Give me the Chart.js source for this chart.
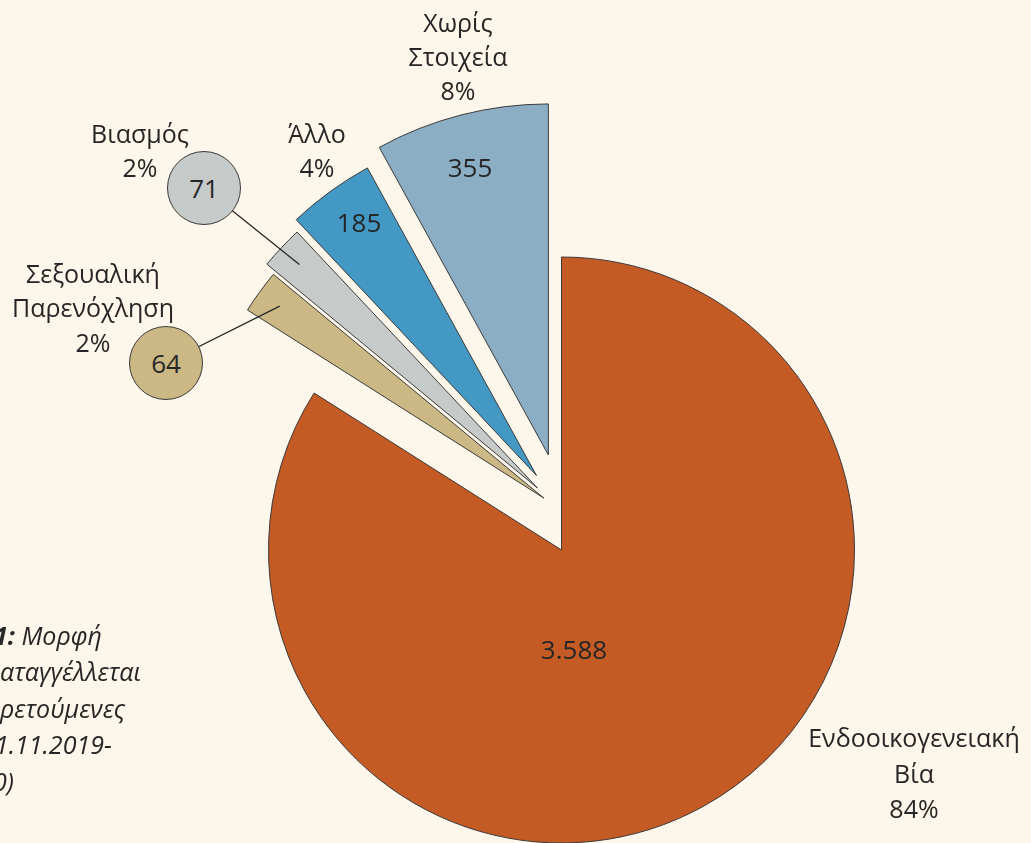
<!DOCTYPE html>
<html lang="el">
<head>
<meta charset="utf-8">
<title>Μορφή βίας που καταγγέλλεται</title>
<script src="https://cdn.jsdelivr.net/npm/chart.js@4.4.1/dist/chart.umd.min.js"></script>
<style>
  html, body { margin: 0; padding: 0; }
  body {
    width: 1031px; height: 843px; overflow: hidden; position: relative;
    background: #fdf6ea; color: #262626;
    font-family: 'Open Sans', 'Noto Sans', sans-serif;
  }
  canvas { position: absolute; left: 0; top: 0; }
  .lbl { position: absolute; transform: translateX(-50%); text-align: center; white-space: nowrap; font-size: 25px; line-height: 34.5px; }
  .val { position: absolute; transform: translate(-50%, -50%); font-size: 26px; white-space: nowrap; }
  .bubble {
    position: absolute; width: 72px; height: 72px; margin: -37px 0 0 -37px;
    border: 1px solid #3a3a3a; border-radius: 50%;
    display: flex; align-items: center; justify-content: center; font-size: 26px;
  }
  .cap { position: absolute; font-style: italic; font-size: 25px; white-space: nowrap; line-height: 30px; }
</style>
</head>
<body>
<canvas id="mainPie" width="1031" height="843"></canvas>
<canvas id="smallPie" width="1031" height="843"></canvas>
<div id="overlay"></div>
<script>
//////////////////////
// data
//////////////////////

// order = clockwise from 12 o'clock
const categories = ['Ενδοοικογενειακή Βία', 'Σεξουαλική Παρενόχληση', 'Βιασμός', 'Άλλο', 'Χωρίς Στοιχεία'];
const shares = [84, 2, 2, 4, 8];           // % drawn as slices
const counts = [3588, 64, 71, 185, 355];    // number of reports (labels)
const labelLines = [['Ενδοοικογενειακή', 'Βία'], ['Σεξουαλική', 'Παρενόχληση'], ['Βιασμός'], ['Άλλο'], ['Χωρίς', 'Στοιχεία']];

//////////////////////
// styles / layout
//////////////////////

const sliceColors = ['#c45a24', '#cbb884', '#c6cbca', '#4398c4', '#8caec4'];
const edgeColor = '#3a3a3a';
const explode = [0, 23.7, 35.2, 45.1, 58.9];   // px pulled out along the bisector

// name labels: centre x, centre y of first line, line height
const namePos = [[914, 738, 35.5], [93, 273, 34.5], [140, 133, 34], [317, 133, 34.5], [458, 22, 34]];
// count labels: either inside the slice or in a bubble
const countPos = [[574, 649], [166, 363], [204, 188], [359, 222], [470, 167]];
const bubbles = [1, 2];

function fmt(n) {
  return String(n).replace(/\B(?=(\d{3})+(?!\d))/g, '.');
}

// Excel like point explosion + leader lines to bubbles
const explodePlugin = {
  id: 'explode',
  beforeDatasetsDraw(chart, args, opts) {
    const area = chart.chartArea;
    const cx = (area.left + area.right) / 2;
    const cy = (area.top + area.bottom) / 2;
    chart.getDatasetMeta(0).data.forEach((arc, i) => {
      const d = opts.distances[i] || 0;
      const mid = (arc.startAngle + arc.endAngle) / 2;
      arc.x = cx + Math.cos(mid) * d;
      arc.y = cy + Math.sin(mid) * d;
    });
  },
  afterDatasetsDraw(chart, args, opts) {
    const ctx = chart.ctx;
    const arcs = chart.getDatasetMeta(0).data;
    ctx.save();
    ctx.strokeStyle = '#262626';
    ctx.lineWidth = 1.3;
    opts.leaders.forEach((i) => {
      const arc = arcs[i];
      const mid = (arc.startAngle + arc.endAngle) / 2;
      const r = arc.outerRadius * 0.93;
      ctx.beginPath();
      ctx.moveTo(countPos[i][0], countPos[i][1]);
      ctx.lineTo(arc.x + Math.cos(mid) * r, arc.y + Math.sin(mid) * r);
      ctx.stroke();
    });
    ctx.restore();
  }
};

function pieConfig(show, radius, padding, plugins, pluginOpts) {
  return {
    type: 'pie',
    data: {
      labels: categories,
      datasets: [{
        data: shares,
        backgroundColor: sliceColors.map((c, i) => show(i) ? c : 'rgba(0,0,0,0)'),
        borderColor: edgeColor,
        borderWidth: sliceColors.map((c, i) => show(i) ? 1 : 0),
        clip: false
      }]
    },
    options: {
      responsive: false,
      animation: false,
      events: [],
      radius: radius,
      layout: { padding: padding },
      plugins: Object.assign({ legend: { display: false }, tooltip: { enabled: false } }, pluginOpts)
    },
    plugins: plugins
  };
}

// big slice
new Chart(document.getElementById('mainPie'),
  pieConfig((i) => i === 0, 293, { left: 92, top: 257 }, [], {}));

// the four pulled-out slices
new Chart(document.getElementById('smallPie'),
  pieConfig((i) => i > 0, 351, { left: 95, top: 181 }, [explodePlugin],
    { explode: { distances: explode, leaders: bubbles } }));

//////////////////////
// text
//////////////////////

const overlay = document.getElementById('overlay');

categories.forEach((cat, i) => {
  const [x, y, lh] = namePos[i];
  const div = document.createElement('div');
  div.className = 'lbl';
  div.style.left = x + 'px';
  div.style.top = (y - lh / 2) + 'px';
  div.style.lineHeight = lh + 'px';
  div.innerHTML = labelLines[i].concat([shares[i] + '%']).join('<br>');
  overlay.appendChild(div);

  const v = document.createElement('div');
  v.className = bubbles.includes(i) ? 'bubble' : 'val';
  if (bubbles.includes(i)) v.style.background = sliceColors[i];
  v.style.left = countPos[i][0] + 'px';
  v.style.top = countPos[i][1] + 'px';
  v.textContent = fmt(counts[i]);
  overlay.appendChild(v);
});

// caption, cut by the left edge as in the source page
const captionLines = [['<b>1:</b> Μορφή', -6], ['αταγγέλλεται', 0], ['ρετούμενες', 0], ['1.11.2019-', -5], ['0)', -7]];
captionLines.forEach((line, k) => {
  const div = document.createElement('div');
  div.className = 'cap';
  div.style.left = line[1] + 'px';
  div.style.top = (635 + k * 36.4 - 15) + 'px';
  div.innerHTML = line[0];
  overlay.appendChild(div);
});
</script>
</body>
</html>
